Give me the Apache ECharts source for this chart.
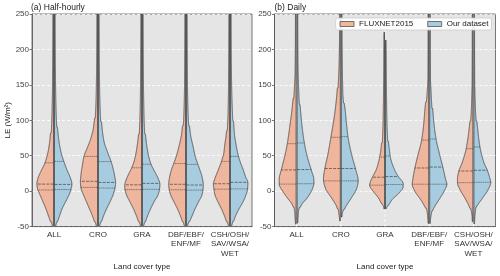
<!DOCTYPE html>
<html><head><meta charset="utf-8">
<script src="https://cdn.jsdelivr.net/npm/echarts@6/dist/echarts.min.js"></script>
<style>html,body{margin:0;padding:0;background:#fff}#c{width:500px;height:276px}</style>
</head><body><div id="c"></div>
<script>
// ---------------- DATA ----------------
const categories = ['ALL', 'CRO', 'GRA', 'DBF/EBF/\nENF/MF', 'CSH/OSH/\nSAV/WSA/\nWET'];
const seriesNames = ['FLUXNET2015', 'Our dataset'];
const panelTitles = ['(a) Half-hourly', '(b) Daily'];
const yTickRange = [-50, 250, 50];

// Violin profiles: [LE value, relative density (half width)]
const hhFluxProfiles = [
  [[-52,0.8],[-45,2.5],[-35,5],[-25,7.5],[-15,10.5],[-5,13.5],[3,15.8],[10,16.5],[18,15.5],[28,12.5],[40,8.5],[55,5.5],[70,3.8],[90,2.6],[110,2],[150,1.3],[200,1],[260,0.8]],
  [[-52,0.8],[-45,2.5],[-35,5],[-25,8],[-15,11],[-5,14],[5,16.5],[13,17],[25,16.3],[37,15],[49,13.5],[60,10.5],[75,6.5],[90,4],[110,2.6],[150,1.5],[200,1],[260,0.8]],
  [[-52,0.8],[-45,2.5],[-35,5],[-25,8],[-15,11.5],[-5,15],[3,16.5],[8,16.7],[15,15.5],[22,13.5],[33,9.7],[44,7],[62,4.5],[80,3],[107,2],[150,1.3],[200,1],[260,0.8]],
  [[-52,0.8],[-45,2.5],[-35,5],[-25,8],[-15,11.5],[-5,14.8],[3,16.3],[9,16.7],[20,15.8],[30,14],[39,11.7],[50,9],[62,6.7],[80,4],[107,2.2],[150,1.3],[200,1],[260,0.8]],
  [[-52,0.8],[-45,2.5],[-35,5],[-25,8],[-15,11.5],[-5,14.5],[3,15.5],[10,16],[18,14.5],[27,12],[42,8],[55,5.5],[62,5],[80,3.3],[107,2],[150,1.3],[200,1],[260,0.8]]
];
const hhOursProfiles = [
  [[-52,0.8],[-45,2.5],[-35,5],[-25,7.5],[-15,11],[-5,14.5],[3,16.5],[10,17.3],[18,16],[28,13],[42,9.3],[55,6.5],[70,4.5],[90,3],[110,2.2],[150,1.4],[200,1],[260,0.8]],
  [[-52,0.8],[-45,2.5],[-35,5],[-25,8],[-15,11.5],[-5,14.5],[5,16.5],[12,17],[22,16],[32,14.5],[42,12.5],[55,9],[70,5.5],[90,3.5],[110,2.4],[150,1.4],[200,1],[260,0.8]],
  [[-52,0.8],[-45,2.5],[-35,5],[-25,8],[-15,11.5],[-5,15.5],[3,17],[10,17.3],[18,15.5],[26,12.7],[38,8.5],[50,6],[62,4.5],[80,3],[107,2],[150,1.3],[200,1],[260,0.8]],
  [[-52,0.8],[-45,2.5],[-35,5.5],[-25,8.5],[-15,12],[-5,15.5],[3,16.5],[9,16.7],[20,15.5],[30,13.3],[38,11.3],[50,8.5],[62,6.7],[80,4],[107,2.2],[150,1.3],[200,1],[260,0.8]],
  [[-52,0.8],[-45,2.5],[-35,5],[-25,8.5],[-15,12.5],[-5,15.5],[3,17],[12,17.3],[20,15],[30,12.7],[40,10],[49,8],[62,6],[80,4],[107,2.7],[150,1.5],[200,1],[260,0.8]]
];
const dFluxProfiles = [
  [[-46.5,0.8],[-40,1.2],[-27.5,2],[-18.5,4],[-9.5,8.7],[0,13.3],[10,16.7],[17,16.7],[30,14.7],[49,11.3],[67,8.7],[94,6],[116,4],[140,2.5],[170,1.3],[200,1],[260,0.8]],
  [[-42,0.8],[-36.5,1.3],[-23,3.3],[-9.5,8.7],[4,14.7],[17,16.7],[32,15.3],[49,12.7],[76,9.3],[112,5.3],[139,3.3],[184,1.5],[220,1],[260,0.8]],
  [[-25,0.8],[-22,1.3],[-18.5,2.7],[-9.5,6],[0,11.3],[8.5,14.7],[13,14],[19.7,12],[31,8],[49,4.7],[62,3.3],[94,2],[139,1.3],[180,1],[224,0.8]],
  [[-45.5,0.8],[-41,1],[-27.5,2.3],[-14,7],[0,13.7],[9.8,16.3],[17,15.7],[32.7,13.7],[49,11],[72,7],[94,5],[116,3.7],[140,2],[161,1],[260,0.8]],
  [[-43,0.8],[-36.5,1],[-23,3.3],[-9.5,8],[2,12.7],[12,15.3],[17,15.3],[28,14],[40,10.7],[59.7,6.7],[94,3.3],[116,2],[161,1],[260,0.8]]
];
const dOursProfiles = [
  [[-45,0.8],[-38,1.2],[-27.5,2],[-18.5,4.7],[-9.5,10],[4,15.3],[12,16.7],[17,16.5],[30,14],[49,10],[67,7.3],[94,4.7],[116,3.3],[140,2.2],[170,1.3],[200,1],[260,0.8]],
  [[-36.5,0.8],[-32,1.3],[-23,4],[-9.5,10],[4,15.3],[14.5,16.7],[32,14],[49,10.7],[76,6.7],[112,4],[139,2],[184,1.3],[220,1],[260,0.8]],
  [[-25,0.8],[-20.7,2.7],[-11.7,6.7],[-2.8,13.3],[6.2,17.5],[10.7,17.5],[20.6,12.7],[31,8.7],[49,4.7],[94,2],[139,1.3],[180,1],[213,0.8]],
  [[-45.5,0.8],[-41,1],[-27.5,3],[-14,8.3],[0,14.3],[9.8,17],[17,15.7],[34,13],[49,10.3],[73.6,6.3],[94,4.3],[116,3],[140,1.8],[161,1],[260,0.8]],
  [[-46,0.8],[-36.5,1.2],[-23,2.7],[-9.5,8.7],[2,14],[12.5,16.7],[17,16],[29.5,13.3],[40,10],[62.4,6],[94,3.3],[116,2],[161,1],[260,0.8]]
];
// Quartiles [Q1, median, Q3]
const hhFluxQuart = [[1.7,10,40],[5.3,13.9,49],[2.2,9,33],[2,9.7,39],[2.8,10.5,42]];
const hhOursQuart = [[2.3,9.5,42],[4.4,12.3,41.7],[2.6,11,38],[1.5,8.7,37.8],[3.2,12.5,49]];
const dFluxQuart = [[10,30,67],[14.5,32,76],[8.5,19.7,48],[9.8,32.7,72],[12,28.5,60]];
const dOursQuart = [[10.5,30.5,68],[14.5,32,77],[9.4,20.6,49.7],[9.8,34,73.6],[12.5,29.5,62.4]];

// ---------------- RENDER ----------------
const FONT = 'Liberation Sans';
const colors = ['#efb69d', '#a7cce0'];
const edge = '#383838';
const allProfiles = [hhFluxProfiles, hhOursProfiles, dFluxProfiles, dOursProfiles];
const dMax = Math.max(...allProfiles.flat(2).map(p => p[1]));

function makeInterp(pts) {
  const n = pts.length, xs = pts.map(p => p[0]), ys = pts.map(p => p[1]);
  const dx = [], m = [];
  for (let i = 0; i < n - 1; i++) { dx[i] = xs[i+1] - xs[i]; m[i] = (ys[i+1] - ys[i]) / dx[i]; }
  const t = [m[0]];
  for (let i = 1; i < n - 1; i++) {
    if (m[i-1] * m[i] <= 0) t[i] = 0;
    else { const w1 = 2*dx[i] + dx[i-1], w2 = dx[i] + 2*dx[i-1]; t[i] = (w1 + w2) / (w1/m[i-1] + w2/m[i]); }
  }
  t[n-1] = m[n-2];
  return function (x) {
    if (x <= xs[0]) return ys[0];
    if (x >= xs[n-1]) return ys[n-1];
    let i = 0; while (x > xs[i+1]) i++;
    const h = dx[i], s = (x - xs[i]) / h, s2 = s*s, s3 = s2*s;
    return (2*s3 - 3*s2 + 1)*ys[i] + (s3 - 2*s2 + s)*h*t[i] + (-2*s3 + 3*s2)*ys[i+1] + (s3 - s2)*h*t[i+1];
  };
}

function makeRender(profiles, quarts, side, color) {
  const interps = profiles.map(makeInterp);
  return function (params, api) {
    const i = api.value(0);
    const pts = profiles[i], f = interps[i];
    const cx = api.coord([i, 0])[0];
    const band = api.size([1, 0])[0];
    const k = band * 0.4 / dMax;
    const x0 = cx + side * 0.5;
    const halfW = v => { const w = f(v) * k; return w > 3 ? w : w * 0.75; };
    const lo = Math.max(pts[0][0], yTickRange[0] - 2);
    const hi = Math.min(pts[pts.length-1][0], yTickRange[1] + 2);
    const poly = [[x0, api.coord([i, hi])[1]]];
    for (let v = hi; v > lo; v -= 0.5) poly.push([x0 + side * halfW(v), api.coord([i, v])[1]]);
    poly.push([x0 + side * halfW(lo), api.coord([i, lo])[1]]);
    poly.push([x0, api.coord([i, lo])[1]]);
    const children = [{
      type: 'polygon', shape: { points: poly },
      style: { fill: color, stroke: edge, lineWidth: 0.75 }
    }];
    quarts[i].forEach((q, j) => {
      const y = api.coord([i, q])[1];
      children.push({
        type: 'line', shape: { x1: x0, y1: y, x2: x0 + side * halfW(q), y2: y },
        style: { stroke: '#333', lineWidth: 0.7, lineDash: j === 1 ? [3, 1.2] : [1.6, 0.6], opacity: j === 1 ? 0.9 : 0.7 }
      });
    });
    return { type: 'group', children };
  };
}

function gridLineRender(params, api) {
  const i = api.value(0);
  const cx = api.coord([i, 0])[0];
  const cs = params.coordSys;
  return { type: 'line', shape: { x1: cx, y1: cs.y, x2: cx, y2: cs.y + cs.height },
    style: { stroke: '#ffffff', lineWidth: 0.8, lineDash: [3, 2] } };
}

const catData = categories.map((c, i) => [i]);
const grids = [
  { left: 32, top: 14, width: 220, height: 222.7 },
  { left: 274.5, top: 14, width: 221, height: 222.7 }
].map(g => Object.assign(g, { show: true, backgroundColor: '#e5e5e5', borderColor: '#555', borderWidth: 0.8 }));

const xAxes = [0, 1].map(g => ({
  type: 'category', gridIndex: g, data: categories,
  axisLine: { onZero: false, lineStyle: { color: '#555', width: 0.8 } },
  axisTick: { show: false },
  axisLabel: { interval: 0, fontFamily: FONT, fontSize: 8, color: '#333', lineHeight: 9.5, margin: 3 },
  name: 'Land cover type', nameLocation: 'middle', nameGap: 25,
  nameTextStyle: { fontFamily: FONT, fontSize: 8, color: '#222' },
  splitLine: { show: false }
}));
const yAxes = [0, 1].map(g => ({
  type: 'value', gridIndex: g, min: yTickRange[0], max: yTickRange[1], interval: yTickRange[2],
  axisLine: { show: true, lineStyle: { color: '#555', width: 0.8 } },
  axisTick: { show: true, length: 2.5, lineStyle: { color: '#555', width: 0.8 } },
  axisLabel: { fontFamily: FONT, fontSize: 8, color: '#444', margin: 3 },
  splitLine: { show: true, lineStyle: { color: '#ffffff', width: 0.8, type: [3, 2] } },
  name: g === 0 ? 'LE (W/m²)' : '', nameLocation: 'middle', nameGap: 18, nameRotate: 90,
  nameTextStyle: { fontFamily: FONT, fontSize: 8, color: '#222' }
}));

const panels = [[hhFluxProfiles, hhOursProfiles, hhFluxQuart, hhOursQuart], [dFluxProfiles, dOursProfiles, dFluxQuart, dOursQuart]];
const series = [];
panels.forEach((p, g) => {
  series.push({ type: 'custom', name: 'grid' + g, xAxisIndex: g, yAxisIndex: g, data: catData, silent: true, z: 1,
    renderItem: gridLineRender, encode: { x: 0 } });
  series.push({ type: 'custom', name: seriesNames[0], xAxisIndex: g, yAxisIndex: g, data: catData, clip: true, z: 2,
    itemStyle: { color: colors[0] }, renderItem: makeRender(p[0], p[2], -1, colors[0]), encode: { x: 0 } });
  series.push({ type: 'custom', name: seriesNames[1], xAxisIndex: g, yAxisIndex: g, data: catData, clip: true, z: 2,
    itemStyle: { color: colors[1] }, renderItem: makeRender(p[1], p[3], 1, colors[1]), encode: { x: 0 } });
});

const chart = echarts.init(document.getElementById('c'), null, { renderer: 'canvas' });
chart.setOption({
  animation: false,
  backgroundColor: '#ffffff',
  title: [
    { text: panelTitles[0], left: 31, top: 3.5, padding: 0, textStyle: { fontFamily: FONT, fontSize: 8.5, fontWeight: 'normal', color: '#222' } },
    { text: panelTitles[1], left: 274.5, top: 3.5, padding: 0, textStyle: { fontFamily: FONT, fontSize: 8.5, fontWeight: 'normal', color: '#222' } }
  ],
  legend: {
    data: seriesNames.map((n, i) => ({ name: n, itemStyle: { color: colors[i], borderColor: '#555', borderWidth: 0.8 } })),
    right: 8.5, top: 18, padding: [2, 3, 2, 4], itemGap: 14, itemWidth: 14, itemHeight: 5, icon: 'rect',
    backgroundColor: 'rgba(255,255,255,0.9)', borderColor: '#ccc', borderWidth: 0.8, borderRadius: 2,
    textStyle: { fontFamily: FONT, fontSize: 8, color: '#222', padding: [0, 0, 0, 0] }
  },
  grid: grids, xAxis: xAxes, yAxis: yAxes, series
});
</script></body></html>
